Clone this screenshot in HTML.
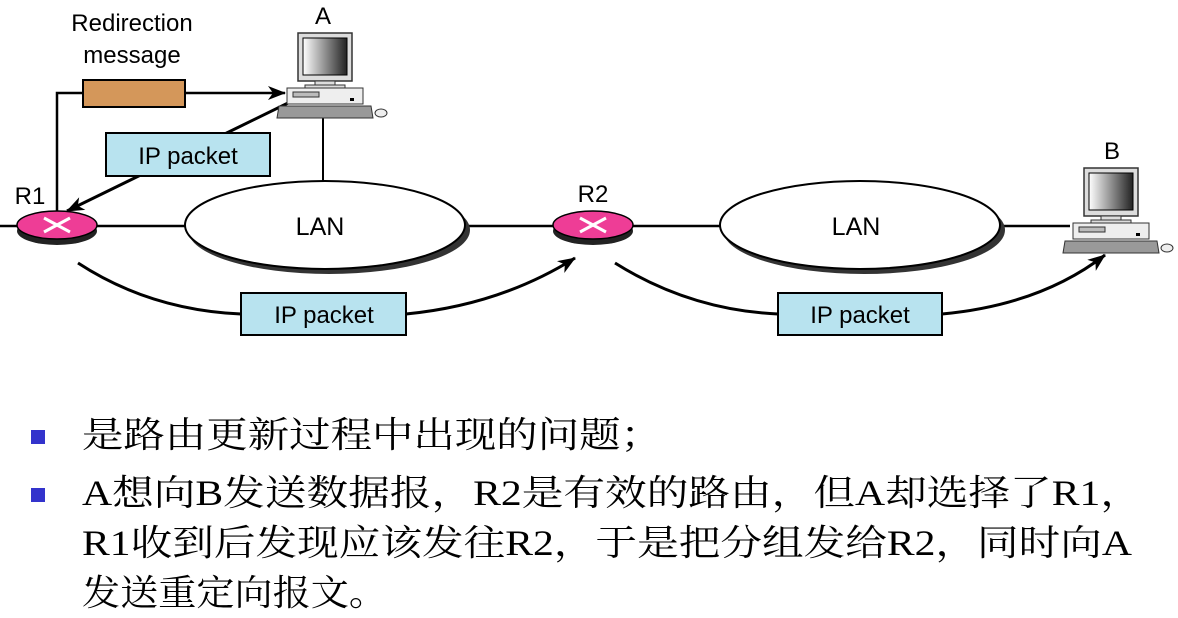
<!DOCTYPE html>
<html><head><meta charset="utf-8"><style>
html,body{margin:0;padding:0;background:#fff;width:1178px;height:618px;overflow:hidden}
svg{display:block}
.s{font-family:"Liberation Sans","DejaVu Sans",sans-serif;fill:#000}
.c{font-family:"Liberation Serif","Noto Serif CJK SC",serif;font-size:36px;fill:#000}
</style></head><body>
<svg width="1178" height="618" viewBox="0 0 1178 618" xmlns="http://www.w3.org/2000/svg">
<defs>
<marker id="ar" markerWidth="18" markerHeight="14" refX="17" refY="7" orient="auto" markerUnits="userSpaceOnUse">
<path d="M0,0 L18,7 L0,14 L5,7 Z" fill="#000"/></marker>
<linearGradient id="scr" x1="0" x2="1"><stop offset="0" stop-color="#fff"/><stop offset="1" stop-color="#222"/></linearGradient>
<g id="pc">
<rect x="11" y="0" width="54" height="48" fill="#ddd" stroke="#333" stroke-width="1.5"/>
<rect x="16" y="5" width="44" height="37" fill="url(#scr)" stroke="#000"/>
<rect x="28" y="48" width="20" height="4" fill="#ddd" stroke="#333"/>
<rect x="18" y="52" width="40" height="3" fill="#ddd" stroke="#333"/>
<rect x="0" y="55" width="76" height="16" fill="#eee" stroke="#333"/>
<rect x="6" y="59" width="26" height="5" fill="#bbb" stroke="#333"/>
<rect x="63" y="65" width="4" height="3" fill="#000"/>
<path d="M-8,73 L84,73 L86,85 L-10,85 Z" fill="#999" stroke="#333"/>
<ellipse cx="94" cy="80" rx="6" ry="4" fill="#eee" stroke="#333"/>
</g>
</defs>

<text class="s" x="132" y="31" font-size="24" text-anchor="middle">Redirection</text>
<text class="s" x="132" y="63" font-size="24" text-anchor="middle">message</text>
<text class="s" x="323" y="24" font-size="24" text-anchor="middle">A</text>
<text class="s" x="1112" y="159" font-size="24" text-anchor="middle">B</text>
<text class="s" x="30" y="204" font-size="24" text-anchor="middle">R1</text>
<text class="s" x="593" y="202" font-size="24" text-anchor="middle">R2</text>

<line x1="0" y1="226" x2="1070" y2="226" stroke="#000" stroke-width="2.5"/>
<polyline points="57,212 57,93 285,93" fill="none" stroke="#000" stroke-width="2.5" marker-end="url(#ar)"/>
<rect x="83" y="80" width="102" height="27" fill="#d4975a" stroke="#000" stroke-width="2"/>
<line x1="288" y1="103" x2="67" y2="211" stroke="#000" stroke-width="3" marker-end="url(#ar)"/>
<rect x="106" y="133" width="164" height="43" fill="#b8e3ef" stroke="#000" stroke-width="2"/>
<text class="s" x="188" y="164" font-size="24" text-anchor="middle">IP packet</text>
<line x1="323" y1="118" x2="323" y2="182" stroke="#000" stroke-width="2"/>

<ellipse cx="329" cy="230" rx="141" ry="44" fill="#333"/>
<ellipse cx="325" cy="225" rx="140" ry="44" fill="#fff" stroke="#000" stroke-width="2"/>
<text class="s" x="320" y="235" font-size="25" text-anchor="middle">LAN</text>
<ellipse cx="864" cy="230" rx="141" ry="44" fill="#333"/>
<ellipse cx="860" cy="225" rx="140" ry="44" fill="#fff" stroke="#000" stroke-width="2"/>
<text class="s" x="856" y="235" font-size="25" text-anchor="middle">LAN</text>

<g>
<ellipse cx="57" cy="231" rx="40" ry="14" fill="#222"/>
<ellipse cx="57" cy="225" rx="40" ry="14" fill="#ee3d96" stroke="#000" stroke-width="1.5"/>
<path d="M44,218 L70,232 M44,232 L70,218" stroke="#fff" stroke-width="3"/>
</g>
<g>
<ellipse cx="593" cy="231" rx="40" ry="14" fill="#222"/>
<ellipse cx="593" cy="225" rx="40" ry="14" fill="#ee3d96" stroke="#000" stroke-width="1.5"/>
<path d="M580,218 L606,232 M580,232 L606,218" stroke="#fff" stroke-width="3"/>
</g>

<use href="#pc" x="287" y="33"/>
<use href="#pc" x="1073" y="168"/>

<path d="M78,263 Q150,310 241,314" fill="none" stroke="#000" stroke-width="3"/>
<path d="M406,314 Q500,305 575,258" fill="none" stroke="#000" stroke-width="3" marker-end="url(#ar)"/>
<rect x="241" y="293" width="165" height="42" fill="#b8e3ef" stroke="#000" stroke-width="2"/>
<text class="s" x="324" y="323" font-size="24" text-anchor="middle">IP packet</text>
<path d="M615,263 Q690,310 778,314" fill="none" stroke="#000" stroke-width="3"/>
<path d="M942,314 Q1040,305 1105,255" fill="none" stroke="#000" stroke-width="3" marker-end="url(#ar)"/>
<rect x="778" y="293" width="164" height="42" fill="#b8e3ef" stroke="#000" stroke-width="2"/>
<text class="s" x="860" y="323" font-size="24" text-anchor="middle">IP packet</text>

<rect x="31" y="430" width="14" height="14" fill="#3333cc"/>
<rect x="31" y="488" width="14" height="14" fill="#3333cc"/>
<text class="c" x="82" y="447" textLength="580" lengthAdjust="spacingAndGlyphs">是路由更新过程中出现的问题；</text>
<text class="c" x="82" y="505" textLength="1060" lengthAdjust="spacingAndGlyphs">A想向B发送数据报，R2是有效的路由，但A却选择了R1，</text>
<text class="c" x="82" y="555" textLength="1050" lengthAdjust="spacingAndGlyphs">R1收到后发现应该发往R2，于是把分组发给R2，同时向A</text>
<text class="c" x="82" y="605" textLength="305" lengthAdjust="spacingAndGlyphs">发送重定向报文。</text>
</svg>
</body></html>
